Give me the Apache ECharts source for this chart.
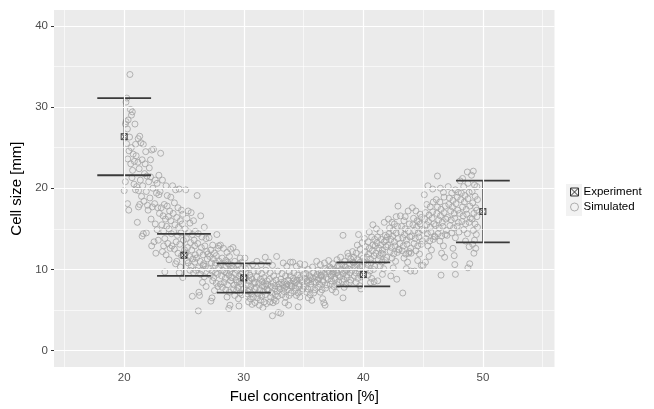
<!DOCTYPE html>
<html>
<head>
<meta charset="utf-8">
<script src="https://cdn.jsdelivr.net/npm/echarts@6/dist/echarts.min.js"></script>
<style>
  html, body { margin: 0; padding: 0; background: #ffffff; }
  #chart { width: 654px; height: 409px; }
</style>
</head>
<body>
<div id="chart"></div>
<script>
// Measured cell sizes: mean and spread at each fuel concentration
const expConc = [20, 25, 30, 40, 50];
const expMean = [26.35, 11.76, 8.97, 9.37, 17.13];
const expLow  = [21.6, 9.21, 7.15, 7.92, 13.33];
const expHigh = [31.1, 14.39, 10.75, 10.87, 20.93];

// Axis breaks
const xTicks = [20, 30, 40, 50];
const xMinor = [15, 25, 35, 45, 55];
const yTicks = [0, 10, 20, 30, 40];
const yMinor = [5, 15, 25, 35];

// Simulated cell sizes [fuel %, cell size mm]
const simulated = [
[20.48,34.0],[20.22,31.1],[20.15,30.6],[20.52,29.7],[20.68,29.4],[20.61,29.0],[20.33,28.4],[20.16,28.2],[20.1,27.9],[20.9,27.9],[20.27,27.3],[21.3,26.4],[21.17,26.1],[20.45,26.3],[20.95,25.4],[20.2,25.5],[20.6,25.0],[20.4,24.6],[20.75,24.2],[20.3,23.6],[20.55,23.0],[20.85,23.3],[20.1,20.8],[20.0,19.7],[20.28,18.1],[20.38,17.3],[20.65,21.3],[20.82,20.5],[20.95,19.8],[20.7,22.2],
[21.1,15.8],[21.05,20.2],[21.2,19.7],[21.35,21.0],[21.5,23.5],[21.15,23.2],[21.4,25.6],[21.6,25.4],[21.8,24.5],[21.25,22.4],[21.7,21.8],[21.9,21.5],[21.55,20.3],[21.45,19.0],[21.65,18.4],[21.85,19.6],[21.95,17.9],[21.3,18.0],[21.75,23.0],[21.6,14.4],[21.5,14.1],[21.85,14.5],[21.2,17.7],[21.0,24.0],
[22.1,22.5],[22.3,24.7],[22.45,24.8],[22.2,23.5],[22.6,21.0],[22.05,20.8],[22.4,20.0],[22.7,19.4],[22.9,19.2],[22.15,18.8],[22.55,18.1],[22.8,17.6],[22.35,17.7],[22.95,16.9],[22.25,16.2],[22.6,15.6],[22.75,14.9],[22.5,13.4],[22.85,13.6],[22.3,12.9],[22.65,12.0],[22.0,17.3],[22.2,21.4],[22.9,21.6],[22.75,20.6],
[23.05,24.3],[23.2,21.0],[23.5,20.3],[23.35,18.0],[23.1,17.6],[23.6,17.8],[23.8,17.2],[23.25,16.6],[23.45,16.2],[23.7,16.5],[23.9,16.0],[23.15,15.5],[23.55,15.3],[23.75,15.0],[23.3,14.7],[23.95,14.4],[23.4,13.8],[23.65,13.2],[23.85,12.6],[23.2,12.2],[23.5,11.8],[23.75,11.2],[23.4,9.7],[23.6,19.1],[23.0,19.6],[23.9,18.9],[23.3,12.9],
[24.05,20.3],[24.3,19.8],[24.6,19.9],[24.2,18.2],[24.5,17.6],[24.8,17.3],[24.1,16.9],[24.4,16.4],[24.7,16.0],[24.9,16.8],[24.25,15.5],[24.55,15.2],[24.85,15.6],[24.15,14.6],[24.45,14.2],[24.75,14.5],[24.35,13.4],[24.65,13.1],[24.95,13.6],[24.2,12.5],[24.5,12.0],[24.8,11.7],[24.4,11.0],[24.7,10.3],[24.6,9.6],[24.9,9.0],[24.0,12.9],[24.3,10.7],
[25.15,19.8],[25.35,17.2],[25.6,17.0],[25.25,16.3],[25.5,15.7],[25.8,16.0],[25.1,15.0],[25.4,14.6],[25.7,14.3],[25.95,14.7],[25.2,13.8],[25.55,13.3],[25.85,13.6],[25.3,12.7],[25.65,12.4],[25.9,12.9],[25.15,12.0],[25.45,11.6],[25.75,11.3],[25.35,10.8],[25.6,10.4],[25.9,10.9],[25.5,9.9],[25.8,9.6],[25.7,6.7],[25.25,11.1],[25.05,12.4],[25.95,11.8],
[26.1,19.1],[26.4,16.6],[26.7,15.2],[26.2,14.4],[26.5,14.0],[26.85,13.8],[26.15,13.2],[26.45,12.7],[26.75,12.9],[26.3,12.1],[26.6,11.8],[26.9,12.2],[26.05,11.4],[26.35,11.0],[26.65,10.7],[26.95,11.3],[26.2,10.2],[26.5,9.9],[26.8,10.4],[26.4,9.4],[26.7,9.1],[26.55,8.4],[26.85,7.9],[26.25,7.2],[26.2,4.9],[26.0,9.9],[26.6,10.5],[26.3,6.8],
[27.1,13.9],[27.4,13.0],[27.75,14.3],[27.25,12.4],[27.55,12.0],[27.85,12.6],[27.15,11.6],[27.45,11.3],[27.7,11.7],[27.95,11.0],[27.3,10.8],[27.6,10.5],[27.9,10.2],[27.05,10.1],[27.35,9.8],[27.65,9.6],[27.2,9.3],[27.5,9.0],[27.8,9.4],[27.4,8.6],[27.7,8.3],[27.55,7.4],[27.35,6.5],[27.25,6.1],[27.9,12.9],[27.0,11.9],[27.65,10.8],[27.85,7.9],
[28.05,13.0],[28.3,12.6],[28.6,12.1],[28.9,12.5],[28.2,11.4],[28.5,11.1],[28.8,11.6],[28.1,10.6],[28.4,10.3],[28.7,10.7],[28.95,10.1],[28.25,9.9],[28.55,9.6],[28.85,9.8],[28.15,9.2],[28.45,8.9],[28.75,9.3],[28.35,8.4],[28.65,8.1],[28.9,8.6],[28.2,7.8],[28.5,7.5],[28.8,7.2],[28.6,6.6],[28.85,5.6],[28.75,5.2],[28.4,9.7],[28.95,9.0],[28.05,8.2],[28.65,10.9],
[29.1,12.7],[29.4,12.1],[29.7,11.4],[29.25,11.0],[29.55,10.6],[29.85,10.9],[29.15,10.2],[29.45,9.9],[29.75,10.1],[29.3,9.5],[29.6,9.2],[29.9,9.6],[29.05,9.0],[29.35,8.7],[29.65,8.5],[29.95,8.9],[29.2,8.1],[29.5,7.8],[29.8,8.2],[29.4,7.4],[29.7,7.1],[29.25,6.8],[29.55,6.4],[29.85,6.9],[29.6,5.5],[29.15,7.6],[29.45,8.4],[29.75,9.4],[29.95,7.6],[29.0,10.5],
[30.1,11.4],[30.4,10.2],[30.75,10.6],[30.2,9.6],[30.5,9.3],[30.85,9.8],[30.15,8.9],[30.45,8.6],[30.7,8.8],[30.95,8.4],[30.3,8.1],[30.6,7.9],[30.9,7.6],[30.05,7.7],[30.35,7.3],[30.65,7.0],[30.25,6.7],[30.55,6.4],[30.8,6.6],[30.4,6.0],[30.7,5.7],[30.95,5.9],[30.5,7.5],[30.85,8.3],[30.15,10.1],[30.6,9.0],[30.0,8.5],[30.3,7.0],
[31.1,11.0],[31.45,10.6],[31.8,11.5],[31.2,9.8],[31.5,9.5],[31.85,9.9],[31.1,9.1],[31.4,8.8],[31.7,9.0],[31.95,8.6],[31.25,8.3],[31.55,8.0],[31.85,8.2],[31.05,7.8],[31.35,7.5],[31.65,7.3],[31.95,7.6],[31.2,7.0],[31.5,6.7],[31.8,6.9],[31.4,6.2],[31.7,6.0],[31.3,5.6],[31.6,5.3],[31.9,5.8],[31.55,8.5],[31.15,6.5],[31.75,7.9],
[32.1,10.9],[32.4,10.5],[32.75,11.6],[32.2,9.6],[32.5,9.2],[32.85,9.8],[32.15,8.8],[32.45,8.4],[32.7,8.7],[32.95,8.2],[32.3,7.9],[32.6,7.6],[32.9,7.8],[32.05,7.4],[32.35,7.1],[32.65,6.9],[32.25,6.6],[32.55,6.3],[32.85,6.7],[32.45,5.9],[32.7,6.1],[32.4,4.3],[32.9,4.7],[32.6,8.0],[32.0,8.1],[32.8,7.3],[32.2,6.0],
[33.1,4.6],[33.3,10.8],[33.6,10.4],[33.9,10.9],[33.2,9.5],[33.5,9.2],[33.8,9.7],[33.1,8.8],[33.4,8.5],[33.7,8.7],[33.95,8.3],[33.25,8.1],[33.55,7.9],[33.85,8.0],[33.05,7.6],[33.35,7.3],[33.65,7.5],[33.95,7.1],[33.2,6.9],[33.5,6.6],[33.8,6.8],[33.45,5.9],[33.75,5.6],[33.6,8.2],[33.15,8.4],[33.9,9.2],[33.4,7.7],
[34.1,10.9],[34.4,10.4],[34.7,10.7],[34.2,9.6],[34.5,9.3],[34.85,9.9],[34.15,8.9],[34.45,8.7],[34.75,9.0],[34.3,8.4],[34.6,8.2],[34.9,8.5],[34.05,7.9],[34.35,7.7],[34.65,7.9],[34.95,7.6],[34.25,7.3],[34.55,7.1],[34.85,7.4],[34.4,6.8],[34.7,6.6],[34.55,5.4],[34.2,8.6],[34.8,8.7],[34.0,8.0],
[35.1,10.6],[35.4,10.0],[35.75,10.3],[35.2,9.5],[35.5,9.2],[35.85,9.6],[35.15,8.9],[35.45,8.7],[35.75,8.9],[35.3,8.4],[35.6,8.2],[35.9,8.5],[35.05,7.9],[35.35,7.6],[35.65,7.8],[35.95,7.5],[35.25,7.2],[35.55,6.9],[35.85,7.1],[35.4,6.5],[35.7,6.2],[35.0,9.4],[35.6,9.0],[35.3,8.6],
[36.1,11.0],[36.4,10.6],[36.75,10.8],[36.2,9.9],[36.5,9.7],[36.85,10.1],[36.15,9.4],[36.45,9.2],[36.75,9.5],[36.3,8.9],[36.6,8.7],[36.9,9.0],[36.05,8.4],[36.35,8.2],[36.65,8.5],[36.95,8.1],[36.25,7.8],[36.55,7.5],[36.85,7.7],[36.4,7.2],[36.6,6.4],[36.8,5.6],[36.7,5.9],[36.2,8.7],[36.5,9.3],[36.0,9.1],
[37.1,11.1],[37.45,10.7],[37.8,11.2],[37.2,10.3],[37.5,10.0],[37.85,10.4],[37.15,9.7],[37.45,9.5],[37.75,9.8],[37.3,9.2],[37.6,9.0],[37.9,9.3],[37.05,8.8],[37.35,8.6],[37.65,8.8],[37.95,8.5],[37.25,8.2],[37.55,7.9],[37.85,8.1],[37.4,7.5],[37.7,7.2],[37.5,9.7],[37.0,9.9],[37.8,9.6],[37.3,10.1],
[38.3,14.2],[38.1,11.5],[38.45,11.0],[38.75,11.6],[38.2,10.6],[38.5,10.3],[38.85,10.7],[38.15,10.0],[38.45,9.8],[38.75,10.1],[38.3,9.5],[38.6,9.3],[38.9,9.6],[38.05,9.1],[38.35,8.8],[38.65,9.0],[38.95,8.7],[38.25,8.5],[38.55,8.2],[38.85,8.4],[38.4,7.8],[38.3,6.5],[38.7,12.0],[38.95,11.3],[38.0,10.4],[38.6,9.9],
[39.6,14.3],[39.1,12.2],[39.4,12.0],[39.75,12.5],[39.2,11.5],[39.5,11.2],[39.85,11.7],[39.15,10.9],[39.45,10.6],[39.75,10.9],[39.3,10.3],[39.6,10.1],[39.9,10.4],[39.05,9.9],[39.35,9.6],[39.65,9.8],[39.95,9.4],[39.25,9.2],[39.55,8.9],[39.85,9.1],[39.4,8.4],[39.7,8.0],[39.8,7.6],[39.5,13.0],[39.9,13.3],[39.2,10.8],
[40.1,13.8],[40.4,13.4],[40.7,14.0],[40.95,13.7],[40.2,12.8],[40.5,12.6],[40.8,13.0],[40.15,12.2],[40.45,11.9],[40.75,12.3],[40.3,11.5],[40.6,11.3],[40.9,11.7],[40.05,10.9],[40.35,10.6],[40.65,10.8],[40.95,10.4],[40.25,10.1],[40.55,9.8],[40.85,10.0],[40.4,9.3],[40.7,8.9],[40.9,8.5],[40.6,8.4],[40.8,15.5],[40.5,14.6],[40.0,11.4],
[41.1,15.0],[41.4,14.6],[41.75,15.8],[41.2,14.0],[41.5,13.7],[41.85,14.2],[41.15,13.3],[41.45,13.0],[41.75,13.4],[41.3,12.6],[41.6,12.4],[41.9,12.8],[41.05,12.0],[41.35,11.7],[41.65,11.9],[41.95,11.5],[41.25,11.2],[41.55,10.9],[41.85,11.1],[41.4,10.4],[41.7,10.1],[41.6,9.4],[41.2,8.6],[41.9,13.6],[41.0,12.9],[41.5,12.0],
[42.1,16.2],[42.4,15.8],[42.75,16.5],[42.2,15.1],[42.5,14.8],[42.85,15.3],[42.15,14.4],[42.45,14.1],[42.75,14.5],[42.3,13.7],[42.6,13.4],[42.9,13.8],[42.05,13.0],[42.35,12.7],[42.65,12.9],[42.95,12.5],[42.25,12.2],[42.55,11.9],[42.85,12.1],[42.4,11.4],[42.7,11.0],[42.5,10.2],[42.3,9.2],[42.8,8.8],[42.9,17.8],[42.6,15.6],[42.0,14.0],
[43.3,7.1],[43.1,16.6],[43.4,16.0],[43.75,17.2],[43.2,15.3],[43.5,15.0],[43.85,15.6],[43.15,14.6],[43.45,14.3],[43.75,14.7],[43.3,13.9],[43.6,13.6],[43.9,14.0],[43.05,13.2],[43.35,12.9],[43.65,13.1],[43.95,12.6],[43.25,12.3],[43.55,11.9],[43.85,12.2],[43.4,11.4],[43.7,10.9],[43.6,10.1],[43.95,9.8],[43.5,16.5],[43.8,12.0],[43.0,12.4],
[44.1,17.6],[44.4,17.2],[44.75,16.8],[44.2,16.3],[44.5,16.0],[44.85,16.4],[44.15,15.5],[44.45,15.2],[44.75,15.6],[44.3,14.8],[44.6,14.5],[44.9,14.9],[44.05,14.1],[44.35,13.8],[44.65,14.0],[44.95,13.5],[44.25,13.2],[44.55,12.9],[44.85,13.1],[44.4,12.3],[44.7,11.9],[44.55,11.1],[44.85,10.5],[44.3,9.8],[44.0,12.0],[44.65,15.9],
[45.1,19.2],[45.3,18.0],[45.6,17.7],[45.85,18.3],[45.2,17.0],[45.5,16.7],[45.8,17.1],[45.15,16.2],[45.45,15.9],[45.75,16.3],[45.3,15.5],[45.6,15.2],[45.9,15.6],[45.05,14.8],[45.35,14.4],[45.65,14.6],[45.95,14.1],[45.25,13.8],[45.55,13.5],[45.85,13.7],[45.4,12.9],[45.7,12.4],[45.5,11.6],[45.2,10.9],[45.0,10.5],[45.8,19.9],[45.4,20.3],
[46.2,21.5],[46.45,20.0],[46.1,18.6],[46.4,18.3],[46.75,18.9],[46.2,17.7],[46.5,17.4],[46.85,17.8],[46.15,16.9],[46.45,16.6],[46.75,17.0],[46.3,16.1],[46.6,15.8],[46.9,16.2],[46.05,15.4],[46.35,15.1],[46.65,15.3],[46.95,14.8],[46.25,14.4],[46.55,14.1],[46.85,14.3],[46.4,13.5],[46.7,12.9],[46.55,12.0],[46.8,11.5],[46.5,9.3],[46.0,14.0],[46.7,19.5],
[47.1,20.2],[47.4,19.4],[47.7,19.8],[47.2,18.8],[47.5,18.5],[47.85,18.9],[47.15,18.0],[47.45,17.7],[47.75,18.1],[47.3,17.2],[47.6,16.9],[47.9,17.3],[47.05,16.4],[47.35,16.1],[47.65,16.3],[47.95,15.8],[47.25,15.4],[47.55,15.1],[47.85,15.3],[47.4,14.5],[47.7,13.9],[47.6,11.7],[47.65,10.6],[47.7,9.4],[47.0,14.2],[47.95,19.5],[47.5,12.6],
[48.7,22.0],[48.1,20.9],[48.4,20.2],[48.75,20.6],[48.2,19.4],[48.5,19.1],[48.85,19.5],[48.15,18.6],[48.45,18.3],[48.75,18.7],[48.3,17.7],[48.6,17.4],[48.9,17.8],[48.05,16.9],[48.35,16.6],[48.65,16.8],[48.95,16.3],[48.25,15.9],[48.55,15.6],[48.85,15.8],[48.4,14.9],[48.7,14.4],[48.55,13.5],[48.85,12.8],[48.75,10.2],[48.9,10.7],[48.0,14.6],[48.3,21.2],
[49.2,22.1],[49.05,21.6],[49.3,20.4],[49.5,20.2],[49.1,19.6],[49.35,19.0],[49.55,18.6],[49.15,18.2],[49.4,17.6],[49.25,16.9],[49.5,16.5],[49.1,16.2],[49.35,15.6],[49.55,15.2],[49.2,14.8],[49.45,14.3],[49.3,13.6],[49.15,13.1],[49.4,12.6],[49.25,12.0],[49.5,17.3]
];

const FONT = '"Liberation Sans", Arial, Helvetica, sans-serif';
const CAP_HALF = 2.25;           // half-width of error-bar caps, in x units
const SQUARE_X = 'path://M0,0L10,0L10,10L0,10Z M0,0L10,10 M10,0L0,10';

const chart = echarts.init(document.getElementById('chart'), null, { renderer: 'canvas' });

const gridLine = (axis, v, w) => ({ [axis]: v, lineStyle: { color: '#ffffff', width: w, type: 'solid' } });

const option = {
  animation: false,
  backgroundColor: '#ffffff',
  textStyle: { fontFamily: FONT },
  grid: {
    left: 54, right: 99.5, top: 10, bottom: 36.3,
    show: true, backgroundColor: '#EBEBEB', borderWidth: 0
  },
  xAxis: {
    type: 'value', min: 14.13, max: 55.99,
    name: 'Fuel concentration [%]', nameLocation: 'middle', nameGap: 20,
    nameTextStyle: { color: '#000000', fontSize: 15, fontFamily: FONT },
    axisLine: { show: false },
    axisTick: { show: true, length: 3, customValues: xTicks, lineStyle: { color: '#333333', width: 1 } },
    axisLabel: { customValues: xTicks, color: '#4D4D4D', fontSize: 11.5, margin: 5, fontFamily: FONT },
    splitLine: { show: false }
  },
  yAxis: {
    type: 'value', min: -2.02, max: 41.94,
    name: 'Cell size [mm]', nameLocation: 'middle', nameGap: 25,
    nameTextStyle: { color: '#000000', fontSize: 15, fontFamily: FONT },
    axisLine: { show: false },
    axisTick: { show: true, length: 3, customValues: yTicks, lineStyle: { color: '#333333', width: 1 } },
    axisLabel: { customValues: yTicks, color: '#4D4D4D', fontSize: 11.5, margin: 6, fontFamily: FONT },
    splitLine: { show: false }
  },
  legend: {
    orient: 'vertical', left: 570, top: 186, padding: 0,
    itemWidth: 8, itemHeight: 8, itemGap: 3,
    textStyle: { color: '#000000', fontSize: 11.5, fontFamily: FONT },
    data: [
      { name: 'Experiment', icon: SQUARE_X,
        itemStyle: { color: 'rgba(0,0,0,0)', borderColor: '#333333', borderWidth: 1 } },
      { name: 'Simulated', icon: 'circle',
        itemStyle: { color: 'rgba(0,0,0,0)', borderColor: '#9E9E9E', borderWidth: 1 } }
    ]
  },
  graphic: [
    { type: 'rect', left: 566, top: 184, shape: { width: 16, height: 16 }, style: { fill: '#F2F2F2' }, z: -1, silent: true },
    { type: 'rect', left: 566, top: 200, shape: { width: 16, height: 16 }, style: { fill: '#F2F2F2' }, z: -1, silent: true }
  ],
  series: [
    {
      // panel grid lines
      type: 'line', data: [], silent: true, z: 1,
      markLine: {
        silent: true, symbol: 'none', label: { show: false }, animation: false,
        data: [
          ...xMinor.map(v => gridLine('xAxis', v, 0.6)),
          ...yMinor.map(v => gridLine('yAxis', v, 0.6)),
          ...xTicks.map(v => gridLine('xAxis', v, 1.2)),
          ...yTicks.map(v => gridLine('yAxis', v, 1.2))
        ]
      }
    },
    {
      name: 'Simulated', type: 'scatter', z: 2,
      symbol: 'circle', symbolSize: 6,
      itemStyle: { color: 'rgba(0,0,0,0)', borderColor: '#A3A3A3', borderWidth: 1 },
      data: simulated
    },
    {
      name: 'Experiment', type: 'custom', z: 3,
      data: expConc.map((x, i) => [x, expLow[i], expHigh[i]]),
      renderItem: function (params, api) {
        const x = api.value(0), lo = api.value(1), hi = api.value(2);
        const top = api.coord([x, hi]);
        const bot = api.coord([x, lo]);
        const tl = api.coord([x - CAP_HALF, hi]), tr = api.coord([x + CAP_HALF, hi]);
        const bl = api.coord([x - CAP_HALF, lo]), br = api.coord([x + CAP_HALF, lo]);
        const stroke = { stroke: '#333333', lineWidth: 1.2 };
        const cap = { stroke: '#3A3A3A', lineWidth: 1.8 };
        return {
          type: 'group',
          children: [
            { type: 'line', shape: { x1: top[0], y1: top[1], x2: bot[0], y2: bot[1] }, style: stroke },
            { type: 'line', shape: { x1: tl[0], y1: tl[1], x2: tr[0], y2: tr[1] }, style: cap },
            { type: 'line', shape: { x1: bl[0], y1: bl[1], x2: br[0], y2: br[1] }, style: cap }
          ]
        };
      }
    },
    {
      name: 'Experiment', type: 'scatter', z: 4,
      symbol: SQUARE_X, symbolSize: 6,
      itemStyle: { color: 'rgba(0,0,0,0)', borderColor: '#222222', borderWidth: 1 },
      data: expConc.map((x, i) => [x, expMean[i]])
    }
  ]
};

chart.setOption(option);
</script>
</body>
</html>
